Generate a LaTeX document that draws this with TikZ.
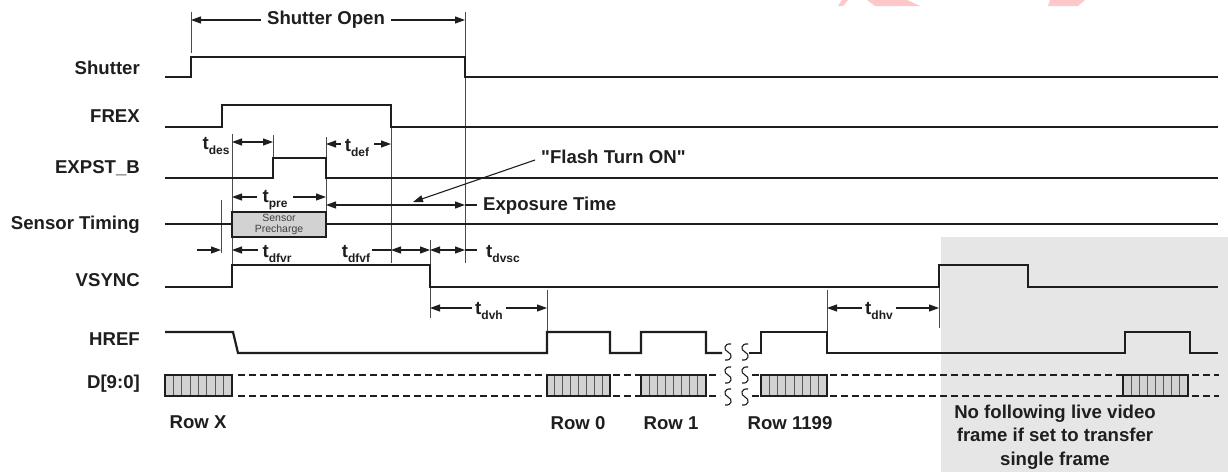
\documentclass[tikz,border=0pt]{standalone}
\usepackage{fontspec}
\setmainfont{Liberation Sans}[Ligatures=TeXOff]
\usetikzlibrary{arrows.meta}
\definecolor{sigc}{HTML}{1E1E1E}
\definecolor{dfill}{HTML}{D2D2D2}
\definecolor{greyarea}{HTML}{E6E6E6}
\definecolor{pinkw}{HTML}{FFC8C8}
\newcommand\tsb[1]{t\raisebox{-5.5pt}{\fontsize{12}{12}\selectfont #1}}
\tikzset{
  sig/.style={line width=2.2pt, color=sigc, line join=miter},
  tick/.style={line width=0.9pt, color=sigc!80},
  dim/.style={line width=1.1pt, color=sigc},
  tip/.style={-{Triangle[length=10pt,width=7pt]}},
  lbl/.style={font=\fontsize{18.6}{20}\bfseries\selectfont, inner sep=0pt, text=sigc},
  rowlbl/.style={lbl},
  busline/.style={line width=2pt, color=sigc, dash pattern=on 7pt off 4pt},
  stripe/.style={line width=0.8pt, color=black!65},
}
\newcommand\databox[2]{%
  \fill[dfill] (#1,375) rectangle (#2,396);
  \foreach \i in {1,...,7} \draw[stripe] ({#1+(#2-#1)*\i/8},375) -- ({#1+(#2-#1)*\i/8},396);
  \draw[line width=2pt, color=sigc] (#1,375) rectangle (#2,396);}
\newcommand\squig[2]{\draw[line width=1.1pt, color=sigc] ({#1+3},{#2-8}) .. controls ({#1-4},{#2-9}) and ({#1-5},{#2-2}) .. (#1,#2) .. controls ({#1+5},{#2+2}) and ({#1+4},{#2+9}) .. ({#1-3},{#2+8});}
\begin{document}
\begin{tikzpicture}[x=1pt,y=-1pt]
\useasboundingbox (0,0) rectangle (1228,472);
\fill[white] (0,0) rectangle (1228,472);
% watermark fragments
\fill[pinkw] (842,0) -- (848,0) -- (843,6) -- (838,6) -- cycle;
\fill[pinkw] (867,0) -- (907,0) -- (920,6) -- (875,6) -- cycle;
\fill[pinkw] (1050,0) -- (1085,0) -- (1078,6) -- (1048,6) -- cycle;
% grey area
\fill[greyarea] (941,237) rectangle (1228,472);

% signal labels
\node[lbl, anchor=east] (lsh) at (140,68) {Shutter};
\node[lbl, anchor=east] (lfx) at (140,116) {FREX};
\node[lbl, anchor=east] (lex) at (140,168) {EXPST\_B};
\node[lbl, anchor=east] (lst) at (140,225) {Sensor Timing};
\node[lbl, anchor=east] (lvs) at (140,280) {VSYNC};
\node[lbl, anchor=east] (lhr) at (140,339) {HREF};
\node[lbl, anchor=east] (ld) at (140,384) {D[9:0]};

% vertical reference lines
\draw[tick] (191,12) -- (191,53);
\draw[tick] (465,12) -- (465,263);
\draw[tick] (232,134) -- (232,265);
\draw[tick] (273,135) -- (273,158);
\draw[tick] (326,137) -- (326,212);
\draw[tick] (391,127) -- (391,263);
\draw[tick] (221,200) -- (221,253);
\draw[tick] (430,240) -- (430,318);
\draw[tick] (547,290) -- (547,332);
\draw[tick] (827,290) -- (827,332);
\draw[tick] (939,265) -- (939,328);

% Shutter open
\node[lbl] (so) at (326,20) {Shutter Open};
\draw[dim,tip] (so.west) ++(-6,0) -- (191,20);
\draw[dim,tip] (so.east) ++(6,0) -- (465,20);

% signals
\draw[sig] (165,77) -- (191,77) -- (191,57) -- (465,57) -- (465,77) -- (1218,77);
\draw[sig] (165,127) -- (222,127) -- (222,105) -- (391,105) -- (391,127) -- (1218,127);
\draw[sig] (165,178) -- (273,178) -- (273,158) -- (326,158) -- (326,178) -- (1218,178);
\draw[sig] (165,224) -- (232,224);
\draw[sig] (326,224) -- (1218,224);
\node[draw=sigc, line width=2.2pt, fill=dfill, minimum width=94pt, minimum height=25pt, inner sep=0pt, align=center, font=\fontsize{10.5}{11}\selectfont, text=black!75] (pre) at (279,224.5) {Sensor\\Precharge};
\draw[sig] (165,287) -- (232,287) -- (232,265) -- (430,265) -- (430,287) -- (939,287) -- (939,265) -- (1028,265) -- (1028,287) -- (1218,287);
\draw[sig] (165,332) -- (233,332) -- (238,353) -- (547,353) -- (547,332) -- (610,332) -- (610,353) -- (641,353) -- (641,332) -- (706,332) -- (706,353) -- (722,353);
\draw[sig] (749,353) -- (761,353) -- (761,332) -- (827,332) -- (827,353) -- (1125,353) -- (1125,332) -- (1190,332) -- (1190,353) -- (1218,353);

% data bus
\foreach \y in {375,396} {
  \draw[busline] (238,\y) -- (547,\y);
  \draw[busline] (613,\y) -- (641,\y);
  \draw[busline] (709,\y) -- (720,\y);
  \draw[busline] (752,\y) -- (761,\y);
  \draw[busline] (830,\y) -- (1123,\y);
  \draw[busline] (1192,\y) -- (1219,\y);
}
\databox{165}{232}
\databox{547}{610}
\databox{641}{706}
\databox{761}{827}
\databox{1123}{1188}
\foreach \x in {728,745} { \squig{\x}{352} \squig{\x}{375} \squig{\x}{397} }

% t_des
\node[lbl] (tdes) at (216,146) {\tsb{des}};
\draw[dim,{Triangle[length=10pt,width=7pt]}-{Triangle[length=10pt,width=7pt]}] (232,142) -- (273,142);
% t_def
\node[lbl] (tdef) at (357,148) {\tsb{def}};
\draw[dim,tip] (341,144) -- (326,144);
\draw[dim,tip] (374,144) -- (391,144);
% t_pre
\node[lbl] (tpre) at (275,200) {\tsb{pre}};
\draw[dim,tip] (257,197) -- (232,197);
\draw[dim,tip] (293,197) -- (326,197);
% Exposure time
\draw[dim,{Triangle[length=10pt,width=7pt]}-{Triangle[length=10pt,width=7pt]}] (326,205) -- (465,205);
\draw[dim] (465,205) -- (477,205);
\node[lbl, anchor=west] (exp) at (483,206) {Exposure Time};
% Flash Turn ON
\node[lbl, anchor=west] (flash) at (541,157) {"Flash Turn ON"};
\draw[line width=1.1pt, color=sigc, tip] (535,160) -- (413,202);
% t_dfvr
\draw[dim,tip] (197,250) -- (221,250);
\node[lbl] (tdfvr) at (277,254) {\tsb{dfvr}};
\draw[dim,tip] (258,250) -- (232,250);
% t_dfvf
\node[lbl] (tdfvf) at (356,254) {\tsb{dfvf}};
\draw[dim] (372,250) -- (391,250);
\draw[dim,{Triangle[length=10pt,width=7pt]}-{Triangle[length=10pt,width=7pt]}] (391,250) -- (430,250);
\draw[dim,{Triangle[length=10pt,width=7pt]}-{Triangle[length=10pt,width=7pt]}] (430,250) -- (465,250);
\draw[dim] (465,250) -- (477,250);
\node[lbl] (tdvsc) at (503,254) {\tsb{dvsc}};
% t_dvh
\node[lbl] (tdvh) at (489,311) {\tsb{dvh}};
\draw[dim,tip] (472,308) -- (430,308);
\draw[dim,tip] (506,308) -- (547,308);
% t_dhv
\node[lbl] (tdhv) at (879,311) {\tsb{dhv}};
\draw[dim,tip] (862,308) -- (827,308);
\draw[dim,tip] (896,308) -- (939,308);

% row labels
\node[rowlbl] (rx) at (198,422) {Row X};
\node[rowlbl] (r0) at (578,423) {Row 0};
\node[rowlbl] (r1) at (671,423) {Row 1};
\node[rowlbl] (r1199) at (790,423) {Row 1199};
\node[lbl, align=center, font=\fontsize{18.6}{23.5}\bfseries\selectfont] (note) at (1055,437) {No following live video\\frame if set to transfer\\single frame};
\end{tikzpicture}
\end{document}
